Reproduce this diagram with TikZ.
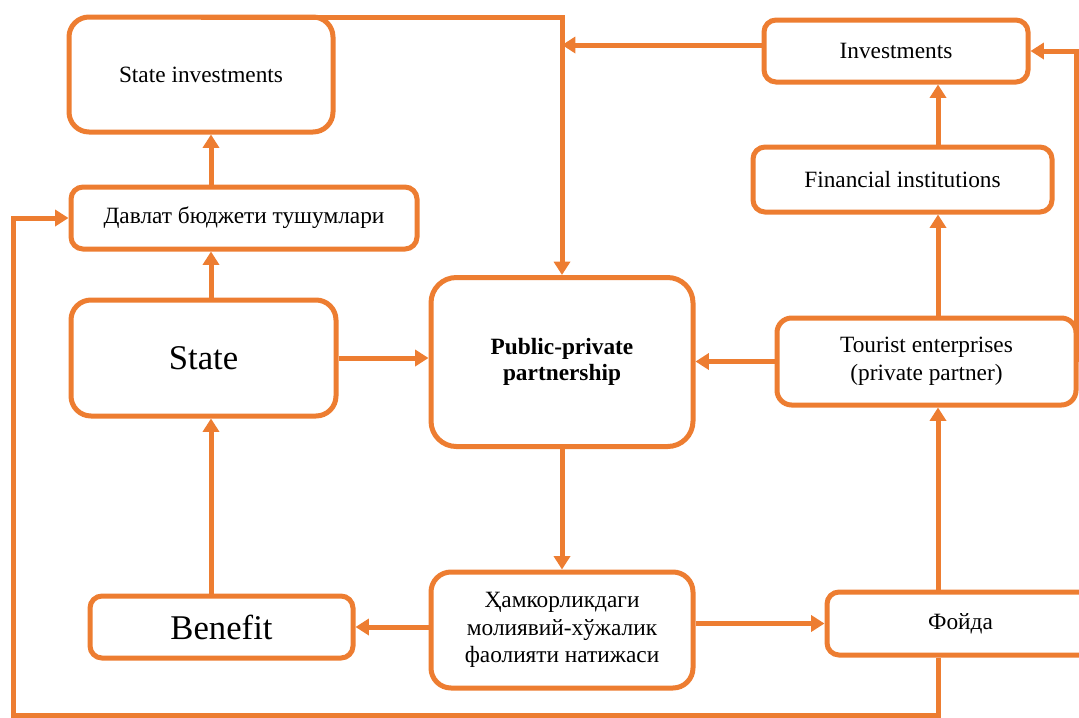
\documentclass[tikz,border=0pt]{standalone}
\usepackage{fontspec}
\setmainfont{Liberation Serif}
\usetikzlibrary{arrows.meta,positioning}
\definecolor{pporange}{RGB}{237,125,49}
\begin{document}
\begin{tikzpicture}[
    x=0.75pt, y=-0.75pt,
    block/.style={rectangle, draw=pporange, line width=3.75pt, align=center, fill=white, rounded corners=9pt, inner sep=0pt, font=\fontsize{17.5}{21}\selectfont},
    roundblock/.style={block, rounded corners=15pt},
    arrow/.style={-{Triangle[length=10pt,width=12pt]}, line width=3.75pt, draw=pporange}
]
\useasboundingbox (0,0) rectangle (1079,718);
\clip (0,0) rectangle (1079,718);

\node[roundblock, minimum width=198pt, minimum height=86.25pt] (sinv) at (201,74.5) {State investments};
\node[block, minimum width=259.5pt, minimum height=46.5pt] (budget) at (244,218) {Давлат бюджети тушумлари};
\node[roundblock, minimum width=198.75pt, minimum height=87pt, font=\fontsize{26}{30}\selectfont] (state) at (203.5,358) {State};
\node[block, minimum width=197.25pt, minimum height=46.5pt, font=\fontsize{26}{30}\selectfont] (benefit) at (221.5,627) {Benefit};
\node[roundblock, rounded corners=19pt, minimum width=196.5pt, minimum height=126.75pt, font=\fontsize{17.5}{20}\selectfont\bfseries] (ppp) at (562,362) {Public-private\\partnership};
\node[roundblock, minimum width=196.5pt, minimum height=87pt, font=\fontsize{17.5}{20.5}\selectfont] (result) at (562,630) {Ҳамкорликдаги\\молиявий-хўжалик\\фаолияти натижаси};
\node[block, minimum width=198pt, minimum height=46.5pt] (invest) at (896,51) {Investments};
\node[block, minimum width=224.25pt, minimum height=48.75pt] (fininst) at (902.5,179.5) {Financial institutions};
\node[block, rounded corners=11pt, minimum width=224.25pt, minimum height=65.25pt] (tourist) at (926.5,361.5) {Tourist enterprises\\(private partner)};
\node[block, minimum width=200.25pt, minimum height=47.25pt] (profit) at (960.5,623.5) {Фойда};

\coordinate (lcol) at (211,0);
\coordinate (rcol) at (938,0);
\coordinate (loop) at (13,715);

\draw[arrow] ([yshift=-1.875pt]sinv.north) -| (ppp.north);
\draw[arrow] ([yshift=4.5pt]invest.west) -- ([yshift=4.5pt]invest.west -| ppp.north);
\draw[arrow] (fininst.north -| rcol) -- (invest.south -| rcol);
\draw[arrow] (tourist.north -| rcol) -- (fininst.south -| rcol);
\draw[arrow] ([xshift=-1.875pt]tourist.east) |- (invest.east);
\draw[arrow] (tourist.west) -- (ppp.east |- tourist.west);
\draw[arrow] (state.east) -- (ppp.west |- state.east);
\draw[arrow] (state.north -| lcol) -- (budget.south -| lcol);
\draw[arrow] (budget.north -| lcol) -- (sinv.south -| lcol);
\draw[arrow] (benefit.north -| lcol) -- (state.south -| lcol);
\draw[arrow] (ppp.south) -- (result.north);
\draw[arrow] (result.west |- benefit.east) -- (benefit.east);
\draw[arrow] (result.east |- profit.west) -- (profit.west);
\draw[arrow] (profit.north -| rcol) -- (tourist.south -| rcol);
\draw[arrow] (profit.south -| rcol) |- (loop) |- (budget.west);
\end{tikzpicture}
\end{document}
